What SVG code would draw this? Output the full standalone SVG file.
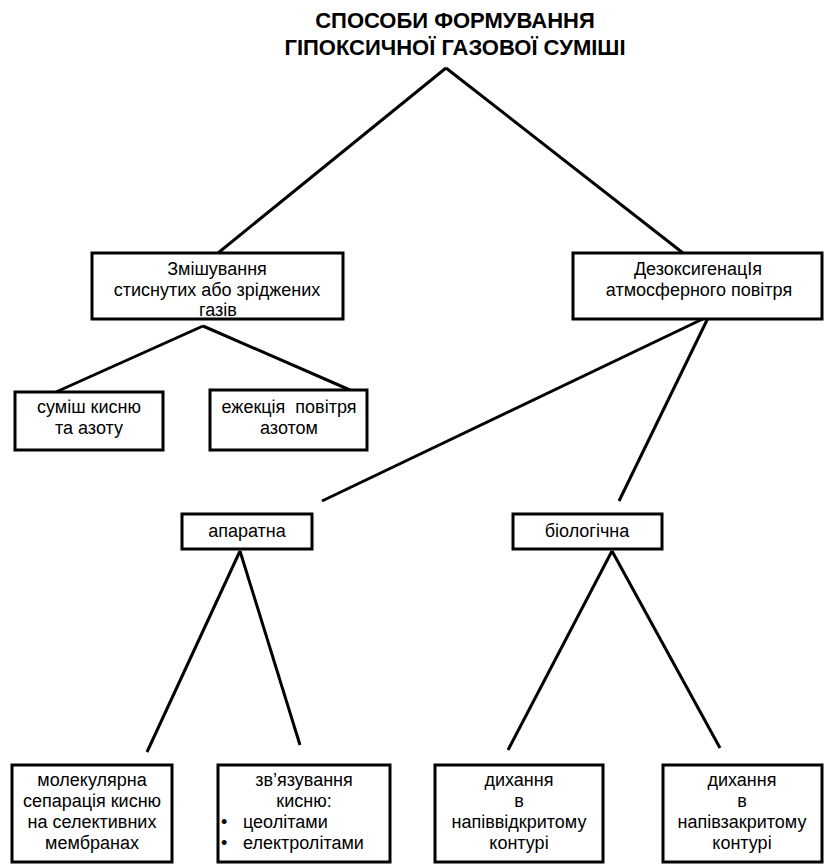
<svg xmlns="http://www.w3.org/2000/svg" width="826" height="865" viewBox="0 0 826 865">
<style>
.box{fill:#fff;stroke:#000;stroke-width:3}
.t{font-family:"Liberation Sans",Arial,sans-serif;font-size:18px;fill:#000;text-anchor:middle}
.tl{font-family:"Liberation Sans",Arial,sans-serif;font-size:18px;fill:#000}
.title{font-family:"Liberation Sans",Arial,sans-serif;font-size:22px;font-weight:bold;fill:#000;text-anchor:middle}
.c line{stroke:#000;stroke-width:3;stroke-linecap:butt}
</style>
<rect width="826" height="865" fill="#fff"/>
<g id="connectors" class="c">
<line x1="446" y1="68" x2="218" y2="253"/>
<line x1="446" y1="68" x2="683" y2="253"/>
<line x1="203" y1="326" x2="56" y2="392"/>
<line x1="203" y1="326" x2="350" y2="390"/>
<line x1="709" y1="316" x2="322" y2="501"/>
<line x1="709" y1="316" x2="619" y2="501"/>
<line x1="240" y1="551" x2="147" y2="752"/>
<line x1="240" y1="551" x2="300" y2="745"/>
<line x1="612" y1="551" x2="508" y2="750"/>
<line x1="612" y1="551" x2="720" y2="748"/>
</g>
<g id="title">
<text class="title" x="455" y="28">СПОСОБИ ФОРМУВАННЯ</text>
<text class="title" x="455" y="55">ГІПОКСИЧНОЇ ГАЗОВОЇ СУМІШІ</text>
</g>
<g id="mixing">
<rect class="box" x="92" y="253" width="251" height="66"/>
<text class="t" x="217" y="275">Змішування</text>
<text class="t" x="217" y="296">стиснутих або зріджених</text>
<text class="t" x="218" y="316">газів</text>
</g>
<g id="deoxygenation">
<rect class="box" x="573" y="253" width="249" height="66"/>
<text class="t" x="698" y="275">ДезоксигенацІя</text>
<text class="t" x="699" y="296">атмосферного повітря</text>
</g>
<g id="mix-o2-n2">
<rect class="box" x="15" y="392" width="148" height="58"/>
<text class="t" x="89" y="413">суміш кисню</text>
<text class="t" x="89" y="434">та азоту</text>
</g>
<g id="ejection">
<rect class="box" x="210" y="390" width="157" height="60"/>
<text class="t" x="289" y="413" xml:space="preserve">ежекція  повітря</text>
<text class="t" x="289" y="434">азотом</text>
</g>
<g id="apparatus">
<rect class="box" x="182" y="514" width="130" height="35"/>
<text class="t" x="247" y="537">апаратна</text>
</g>
<g id="biological">
<rect class="box" x="513" y="514" width="149" height="35"/>
<text class="t" x="587" y="537">біологічна</text>
</g>
<g id="membrane">
<rect class="box" x="12" y="765" width="160" height="97"/>
<text class="t" x="92" y="786">молекулярна</text>
<text class="t" x="92" y="807">сепарація кисню</text>
<text class="t" x="92" y="828">на селективних</text>
<text class="t" x="92" y="849">мембранах</text>
</g>
<g id="binding">
<rect class="box" x="218" y="765" width="172" height="97"/>
<text class="t" x="304" y="786">зв’язування</text>
<text class="t" x="304" y="807">кисню:</text>
<text class="tl" x="221" y="828">•</text>
<text class="tl" x="243" y="828">цеолітами</text>
<text class="tl" x="221" y="849">•</text>
<text class="tl" x="243" y="849">електролітами</text>
</g>
<g id="semi-open">
<rect class="box" x="435" y="765" width="168" height="97"/>
<text class="t" x="519" y="786">дихання</text>
<text class="t" x="519" y="807">в</text>
<text class="t" x="519" y="828">напіввідкритому</text>
<text class="t" x="519" y="849">контурі</text>
</g>
<g id="semi-closed">
<rect class="box" x="663" y="765" width="159" height="97"/>
<text class="t" x="742" y="786">дихання</text>
<text class="t" x="742" y="807">в</text>
<text class="t" x="742" y="828">напівзакритому</text>
<text class="t" x="742" y="849">контурі</text>
</g>
</svg>
